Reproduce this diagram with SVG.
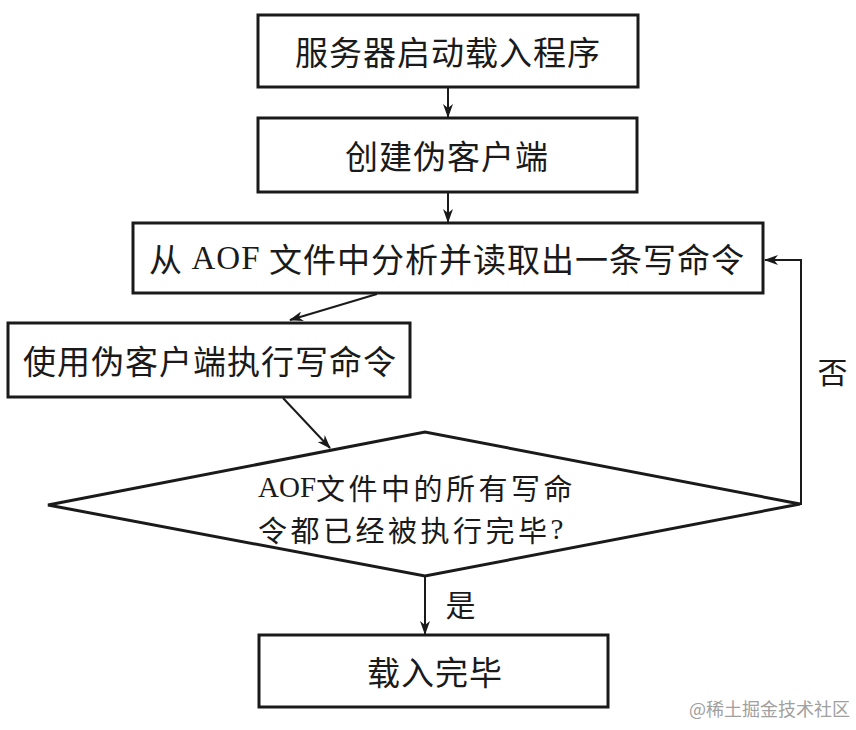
<svg xmlns="http://www.w3.org/2000/svg" width="856" height="730" viewBox="0 0 856 730">
<defs>
<style>
.box{fill:#fff;stroke:#1a1a1a;stroke-width:3}
.t{font-family:"Noto Sans CJK SC","Liberation Sans",sans-serif;font-size:33px;fill:#1a1a1a;text-anchor:middle;dominant-baseline:central;letter-spacing:1px}
.d{font-size:29px;text-anchor:start;letter-spacing:3.5px}
.lat{font-family:"Liberation Serif",serif}
.d .lat{letter-spacing:0}
.c{fill:none;stroke:#1a1a1a;stroke-width:2}
</style>
<marker id="ah" viewBox="0 0 14 10" refX="13" refY="5" markerWidth="14" markerHeight="10" markerUnits="userSpaceOnUse" orient="auto">
<path d="M0,0 L14,5 L0,10 L4,5 z" fill="#1a1a1a"/>
</marker>
</defs>
<rect width="856" height="730" fill="#fff"/>
<g id="n1"><rect class="box" x="258" y="15" width="380" height="72"/><text class="t" x="448" y="51">服务器启动载入程序</text></g>
<g id="n2"><rect class="box" x="258" y="118" width="379" height="74"/><text class="t" x="447" y="155">创建伪客户端</text></g>
<g id="n3"><rect class="box" x="133" y="223" width="630" height="70"/><text class="t" x="447" y="258">从 <tspan class="lat">AOF</tspan> 文件中分析并读取出一条写命令</text></g>
<g id="n4"><rect class="box" x="8" y="323" width="402" height="74"/><text class="t" x="210" y="360">使用伪客户端执行写命令</text></g>
<g id="n5"><polygon class="box" points="48,505 425,432 800,504 425,576"/>
<text class="t d" x="258" y="487"><tspan class="lat">AOF</tspan>文件中的所有写命</text>
<text class="t d" x="258" y="529">令都已经被执行完毕<tspan class="lat">?</tspan></text></g>
<g id="n6"><rect class="box" x="259" y="635" width="349" height="72"/><text class="t" x="435" y="671">载入完毕</text></g>
<g id="connectors">
<line class="c" x1="448" y1="88" x2="448" y2="117" marker-end="url(#ah)"/>
<line class="c" x1="448" y1="193" x2="448" y2="222" marker-end="url(#ah)"/>
<line class="c" x1="377" y1="294" x2="290" y2="320" marker-end="url(#ah)"/>
<line class="c" x1="283" y1="398" x2="330" y2="448" marker-end="url(#ah)"/>
<line class="c" x1="425" y1="577" x2="425" y2="634" marker-end="url(#ah)"/>
<polyline class="c" points="800,504 801,504 801,260 765,260" marker-end="url(#ah)"/>
<text class="t" style="font-size:30px" x="833" y="370">否</text>
<text class="t" style="font-size:30px" x="461" y="603">是</text>
</g>
<text x="850" y="716" style="font-family:'Noto Sans CJK SC',sans-serif;font-size:18px;fill:#a0a0a0;text-anchor:end">@稀土掘金技术社区</text>
</svg>
